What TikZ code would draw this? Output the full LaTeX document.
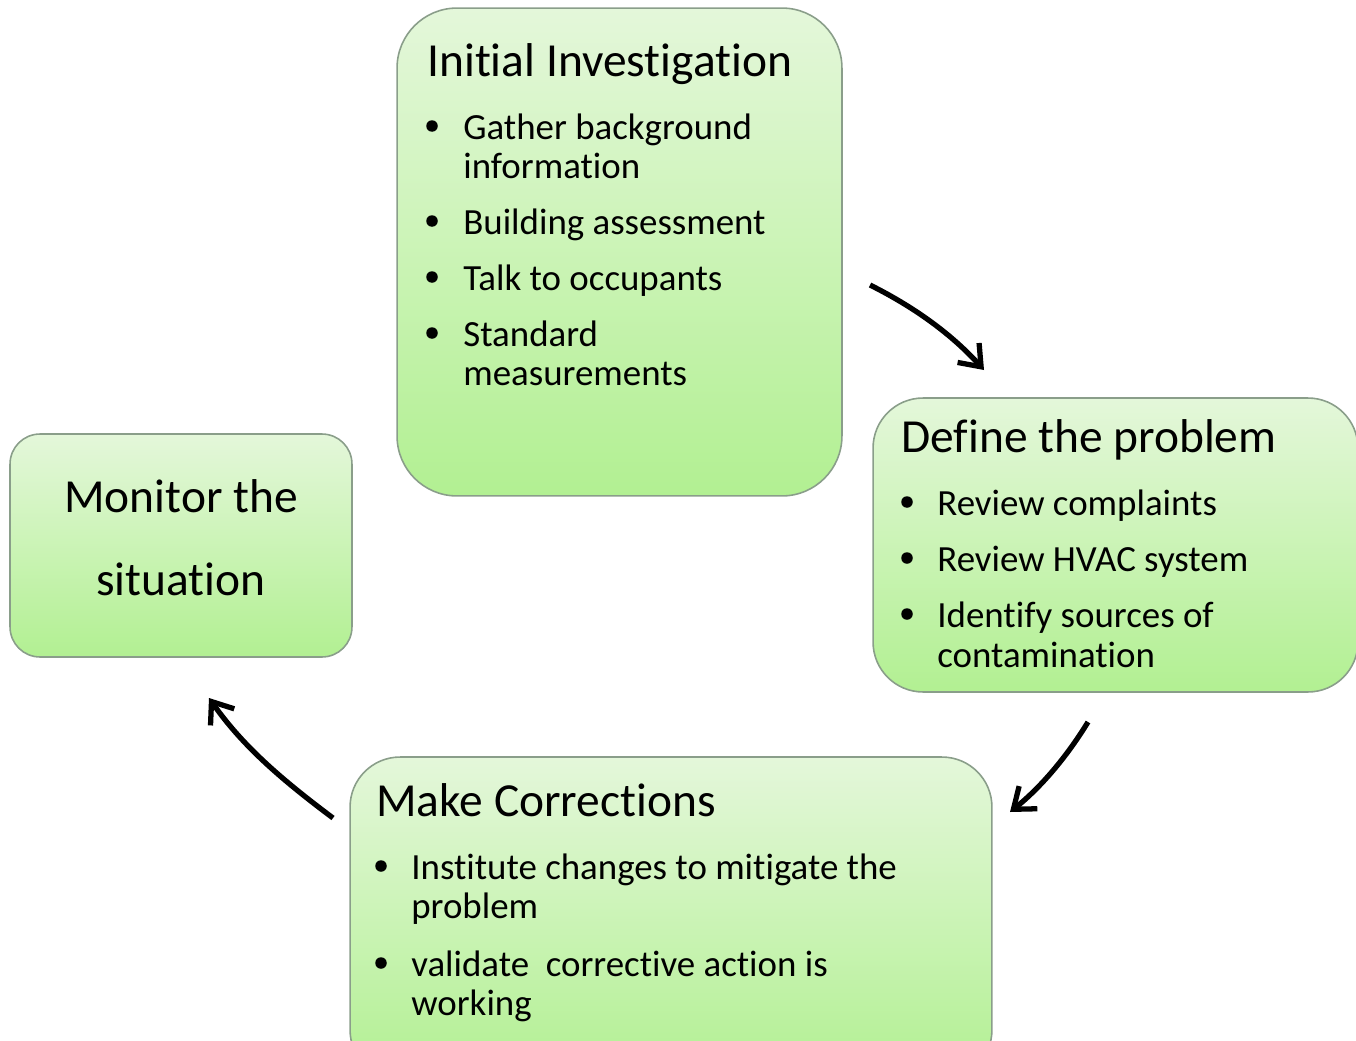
\documentclass[tikz,border=0pt]{standalone}
\usepackage{fontspec}
\setmainfont{Carlito}[Ligatures={CommonOff,ContextualOff,RareOff}]
\usetikzlibrary{arrows.meta}
\definecolor{boxtop}{RGB}{228,247,218}
\definecolor{boxbot}{RGB}{178,240,146}
\definecolor{boxline}{RGB}{138,158,138}
\tikzset{
  stage/.style={draw=boxline, line width=0.9pt, top color=boxtop, bottom color=boxbot,
    inner sep=0pt, outer sep=0pt},
  head/.style={anchor=base west, inner sep=0pt, font=\fontsize{27}{32}\selectfont},
  item/.style={anchor=base west, inner sep=0pt, font=\fontsize{21}{25}\selectfont},
  dot/.style={circle, fill=black, inner sep=0pt, minimum size=0.23cm},
  flow/.style={line width=3pt, -{Straight Barb[length=3.8mm,width=5.8mm,line width=3pt]}},
}
\begin{document}
\begin{tikzpicture}[x=0.02cm, y=-0.02cm]
\useasboundingbox (0,0) rectangle (1356,1041);

% stage boxes
\node[stage, rounded corners=1.2cm, minimum width=8.9cm, minimum height=9.76cm] (init) at (619.5,252) {};
\node[stage, rounded corners=1.0cm, minimum width=9.7cm, minimum height=5.88cm] (define) at (1115.5,545) {};
\node[stage, rounded corners=0.6cm, minimum width=6.84cm, minimum height=4.46cm] (monitor) at (181,545.5) {};
\node[stage, rounded corners=1.0cm, minimum width=12.84cm, minimum height=6.46cm] (correct) at (671,918.5) {};

% Initial Investigation
\node[head] (t1) at (427,76) {Initial Investigation};
\node[dot] (b11) at (432,126) {};
\node[item] (i11) at (463,139) {Gather background};
\node[item] (i11b) at (463,178) {information};
\node[dot] (b12) at (432,221) {};
\node[item] (i12) at (463,234) {Building assessment};
\node[dot] (b13) at (432,277) {};
\node[item] (i13) at (463,290) {Talk to occupants};
\node[dot] (b14) at (432,333) {};
\node[item] (i14) at (463,346) {Standard};
\node[item] (i14b) at (463,385) {measurements};

% Define the problem
\node[head] (t2) at (901,452) {Define the problem};
\node[dot] (b21) at (907,502) {};
\node[item] (i21) at (937,515) {Review complaints};
\node[dot] (b22) at (907,558) {};
\node[item] (i22) at (937,571) {Review HVAC system};
\node[dot] (b23) at (907,614) {};
\node[item] (i23) at (937,627) {Identify sources of};
\node[item] (i23b) at (937,667) {contamination};

% Monitor the situation
\node[anchor=base, inner sep=0pt, font=\fontsize{27}{32}\selectfont] (t3a) at (181,512) {Monitor the};
\node[anchor=base, inner sep=0pt, font=\fontsize{27}{32}\selectfont] (t3b) at (181,595) {situation};

% Make Corrections
\node[head] (t4) at (376,816) {Make Corrections};
\node[dot] (b41) at (381,866) {};
\node[item] (i41) at (411,879) {Institute changes to mitigate the};
\node[item] (i41b) at (411,918) {problem};
\node[dot] (b42) at (381,963) {};
\node[item] (i42) at (411,976) {validate\ \ corrective action is};
\node[item] (i42b) at (411,1015) {working};

% cycle arrows
\coordinate (a1s) at (870,285);  \coordinate (a1e) at (984,370);
\coordinate (a2s) at (1088,722); \coordinate (a2e) at (1010,812);
\coordinate (a3s) at (333,818);  \coordinate (a3e) at (209,698);
\draw[flow] (a1s) .. controls (920,310) and (955,338) .. (a1e);
\draw[flow] (a2s) .. controls (1066,758) and (1040,788) .. (a2e);
\draw[flow] (a3s) .. controls (285,782) and (244,748) .. (a3e);
\end{tikzpicture}
\end{document}
